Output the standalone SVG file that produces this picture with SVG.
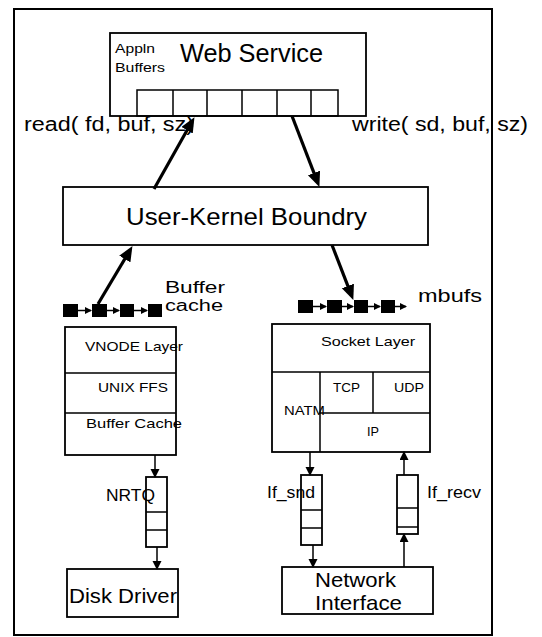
<svg xmlns="http://www.w3.org/2000/svg" width="542" height="637" viewBox="0 0 542 637">
<style>
.box{fill:#fff;stroke:#000;stroke-width:1.8}
.ln{fill:none;stroke:#000;stroke-width:1.5}
.thick{fill:none;stroke:#000;stroke-width:3.2}
.sq{fill:#000}
text{font-family:"Liberation Sans",Arial,sans-serif;fill:#000}
</style>
<defs>
<marker id="big" markerUnits="userSpaceOnUse" markerWidth="16" markerHeight="14" refX="10" refY="6.5" orient="auto">
<path d="M0,0 L15,6.5 L0,13 z" fill="#000"/>
</marker>
<marker id="sm" markerUnits="userSpaceOnUse" markerWidth="10" markerHeight="10" refX="7" refY="4.5" orient="auto">
<path d="M0,0 L9,4.5 L0,9 z" fill="#000"/>
</marker>
<marker id="tiny" markerUnits="userSpaceOnUse" markerWidth="8" markerHeight="8" refX="6" refY="3.5" orient="auto">
<path d="M0,0 L7,3.5 L0,7 z" fill="#000"/>
</marker>
</defs>

<rect x="14" y="9" width="478" height="626" fill="none" stroke="#000" stroke-width="2"/>

<g id="web-service">
<rect class="box" x="110" y="33" width="256" height="83"/>
<text x="115" y="53" font-size="13" textLength="40" lengthAdjust="spacingAndGlyphs">Appln</text>
<text x="115" y="72" font-size="13" textLength="50" lengthAdjust="spacingAndGlyphs">Buffers</text>
<text x="180" y="62" font-size="25" textLength="143" lengthAdjust="spacingAndGlyphs">Web Service</text>
<rect class="ln" x="137" y="90" width="201" height="26"/>
<path class="ln" d="M173,90V116M207,90V116M242,90V116M277,90V116M311,90V116"/>
</g>

<g id="user-kernel">
<rect class="box" x="63" y="187" width="365" height="58"/>
<text x="126" y="225" font-size="24" textLength="241" lengthAdjust="spacingAndGlyphs">User-Kernel Boundry</text>
</g>

<g id="buffer-cache-chain">
<rect class="sq" x="63" y="304" width="15" height="13"/>
<rect class="sq" x="92" y="304" width="15" height="13"/>
<rect class="sq" x="120" y="304" width="14" height="13"/>
<rect class="sq" x="148" y="304" width="14" height="13"/>
<text x="165" y="293" font-size="16" textLength="60" lengthAdjust="spacingAndGlyphs">Buffer</text>
<text x="165" y="311" font-size="16" textLength="58" lengthAdjust="spacingAndGlyphs">cache</text>
</g>

<g id="mbufs-chain">
<rect class="sq" x="298" y="300" width="15" height="13"/>
<rect class="sq" x="327" y="300" width="15" height="13"/>
<rect class="sq" x="354" y="300" width="14" height="13"/>
<rect class="sq" x="381" y="300" width="14" height="13"/>
<text x="418" y="302" font-size="19" textLength="64" lengthAdjust="spacingAndGlyphs">mbufs</text>
</g>

<g id="fs-stack">
<rect class="box" x="65" y="327" width="111" height="128"/>
<path class="ln" d="M65,373H176M65,413H176"/>
<text x="85" y="351" font-size="13" textLength="98" lengthAdjust="spacingAndGlyphs">VNODE Layer</text>
<text x="98" y="392" font-size="13" textLength="70" lengthAdjust="spacingAndGlyphs">UNIX FFS</text>
<text x="86" y="428" font-size="13" textLength="96" lengthAdjust="spacingAndGlyphs">Buffer Cache</text>
</g>

<g id="net-stack">
<rect class="box" x="272" y="324" width="158" height="128"/>
<path class="ln" d="M272,372H430M320,372V452M373,372V413M320,413H430"/>
<text x="321" y="346" font-size="13" textLength="94" lengthAdjust="spacingAndGlyphs">Socket Layer</text>
<text x="333" y="392" font-size="13" textLength="27" lengthAdjust="spacingAndGlyphs">TCP</text>
<text x="394" y="392" font-size="13" textLength="30" lengthAdjust="spacingAndGlyphs">UDP</text>
<text x="284" y="415" font-size="13" textLength="41" lengthAdjust="spacingAndGlyphs">NATM</text>
<text x="367" y="436" font-size="13" textLength="12" lengthAdjust="spacingAndGlyphs">IP</text>
</g>

<g id="nrtq">
<rect class="box" x="146" y="477" width="21" height="70"/>
<path class="ln" d="M146,512H167M146,530H167"/>
<text x="106" y="501" font-size="17" textLength="49" lengthAdjust="spacingAndGlyphs">NRTQ</text>
</g>

<g id="if-snd">
<rect class="box" x="301" y="475" width="21" height="70"/>
<path class="ln" d="M301,510H322M301,528H322"/>
<text x="267" y="498" font-size="17" textLength="48" lengthAdjust="spacingAndGlyphs">If_snd</text>
</g>

<g id="if-recv">
<rect class="box" x="397" y="475" width="21" height="59"/>
<path class="ln" d="M397,508H418M397,527H418"/>
<text x="427" y="498" font-size="17" textLength="54" lengthAdjust="spacingAndGlyphs">If_recv</text>
</g>

<g id="disk-driver">
<rect class="box" x="67" y="569" width="111" height="48"/>
<text x="69" y="603" font-size="21" textLength="108" lengthAdjust="spacingAndGlyphs">Disk Driver</text>
</g>

<g id="network-interface">
<rect class="box" x="282" y="567" width="151" height="47"/>
<text x="315" y="587" font-size="21" textLength="81" lengthAdjust="spacingAndGlyphs">Network</text>
<text x="315" y="610" font-size="21" textLength="87" lengthAdjust="spacingAndGlyphs">Interface</text>
</g>

<g id="connectors">
<path class="thick" d="M154,189L192,121.5" marker-end="url(#big)"/>
<path class="thick" d="M292,116L317.6,182.3" marker-end="url(#big)"/>
<path class="thick" d="M98,304L129.9,250.4" marker-end="url(#big)"/>
<path class="thick" d="M332,245L351.5,295.3" marker-end="url(#big)"/>
<path class="ln" d="M78,310.5H91" marker-end="url(#tiny)"/>
<path class="ln" d="M107,310.5H119" marker-end="url(#tiny)"/>
<path class="ln" d="M134,310.5H147" marker-end="url(#tiny)"/>
<path class="ln" d="M313,306.5H326" marker-end="url(#tiny)"/>
<path class="ln" d="M342,306.5H353" marker-end="url(#tiny)"/>
<path class="ln" d="M368,306.5H380" marker-end="url(#tiny)"/>
<path class="ln" d="M395,306.5H406" marker-end="url(#tiny)"/>
<path class="ln" d="M155,455V476" marker-end="url(#sm)"/>
<path class="ln" d="M157,547V568" marker-end="url(#sm)"/>
<path class="ln" d="M310,452V474" marker-end="url(#sm)"/>
<path class="ln" d="M313,545V566" marker-end="url(#sm)"/>
<path class="ln" d="M404,475V453" marker-end="url(#sm)"/>
<path class="ln" d="M404,567V535" marker-end="url(#sm)"/>
<text x="24" y="131" font-size="20" textLength="170" lengthAdjust="spacingAndGlyphs">read( fd, buf, sz)</text>
<text x="352" y="131" font-size="20" textLength="176" lengthAdjust="spacingAndGlyphs">write( sd, buf, sz)</text>
</g>
</svg>
